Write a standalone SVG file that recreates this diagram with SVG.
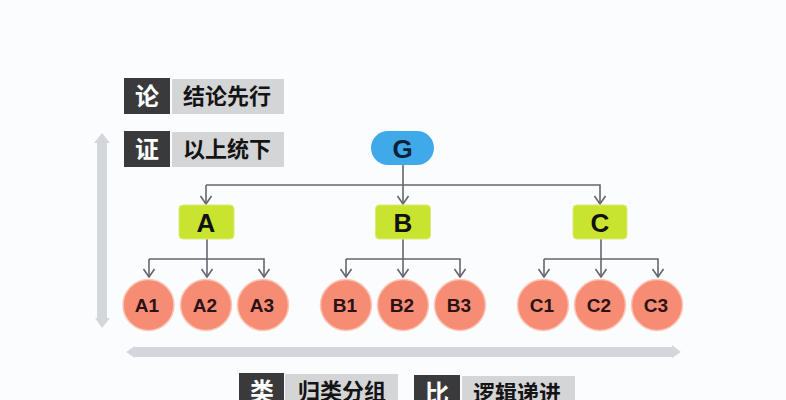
<svg xmlns="http://www.w3.org/2000/svg" width="786" height="400" viewBox="0 0 786 400">
<style>
.cjk{font-family:"Noto Sans CJK SC","Liberation Sans",sans-serif;font-weight:700;text-anchor:middle}
.dark{fill:#3a3a3c}
.grey{fill:#d4d5d7}
.tag{fill:#fff;font-size:24px}
.lab{fill:#141414;font-size:22px}
.lat{font-family:"Liberation Sans",Arial,sans-serif;font-weight:700;text-anchor:middle;fill:#111}
.big{font-size:26px}
.sm{font-size:19px;fill:#2a1216}
.sec{fill:#c9e42e;stroke:#d8ea78;stroke-width:1}
.leaf{fill:#f68c74;stroke:#fbc6b6;stroke-width:1.5}
.line{fill:none;stroke:#67656f;stroke-width:1.6}
.band{fill:#d3d7dc}
</style>
<defs>
<marker id="arr" viewBox="0 0 10 12" refX="9" refY="6" markerWidth="10" markerHeight="12" markerUnits="userSpaceOnUse" orient="auto">
<path d="M1 0.5L9 6L1 11.500" fill="none" stroke="#67656f" stroke-width="1.6"/>
</marker>
</defs>
<rect width="786" height="400" fill="#fbfcfe"/>
<g id="bands">
<path class="band" d="M102 133L110 143H107V318H110L102 328L95 318H97V143H94Z"/>
<path class="band" d="M126 352L135 346V347H672V345L681 352L672 358V357H135V358Z"/>
</g>
<g id="connectors">
<path class="line" d="M403 165V204" marker-end="url(#arr)"/>
<path class="line" d="M206 185H600V204" marker-end="url(#arr)"/>
<path class="line" d="M206 185V204" marker-end="url(#arr)"/>
<path class="line" d="M207 239V277" marker-end="url(#arr)"/>
<path class="line" d="M149 259V277" marker-end="url(#arr)"/>
<path class="line" d="M149 259H264V277" marker-end="url(#arr)"/>
<path class="line" d="M403 239V277" marker-end="url(#arr)"/>
<path class="line" d="M346 259V277" marker-end="url(#arr)"/>
<path class="line" d="M346 259H460V277" marker-end="url(#arr)"/>
<path class="line" d="M601 239V277" marker-end="url(#arr)"/>
<path class="line" d="M544 259V277" marker-end="url(#arr)"/>
<path class="line" d="M544 259H658V277" marker-end="url(#arr)"/>
</g>
<g id="tag-lun"><rect class="dark" x="124" y="78" width="46" height="36"/><rect class="grey" x="172" y="79" width="112" height="35"/><text class="cjk tag" x="147" y="105">论</text><text class="cjk lab" x="227" y="104">结论先行</text></g>
<g id="tag-zheng"><rect class="dark" x="124" y="131" width="46" height="36"/><rect class="grey" x="172" y="132" width="112" height="35"/><text class="cjk tag" x="147" y="158">证</text><text class="cjk lab" x="227" y="157">以上统下</text></g>
<g id="tag-lei"><rect class="dark" x="239" y="373" width="45" height="36"/><rect class="grey" x="285" y="374" width="113" height="35"/><text class="cjk tag" x="262" y="400">类</text><text class="cjk lab" x="342" y="399">归类分组</text></g>
<g id="tag-bi"><rect class="dark" x="414" y="375" width="46" height="36"/><rect class="grey" x="462" y="376" width="113" height="35"/><text class="cjk tag" x="437" y="402">比</text><text class="cjk lab" x="517" y="401">逻辑递进</text></g>
<g id="node-G"><rect x="371" y="131" width="63" height="34" rx="17" fill="#3fa9ea"/><text class="lat big" x="402.500" y="158" style="fill:#0d2238">G</text></g>
<g id="node-A"><rect class="sec" x="179" y="205" width="55" height="34" rx="4"/><text class="lat big" x="206" y="232">A</text></g>
<g id="node-B"><rect class="sec" x="375.500" y="205" width="55" height="34" rx="4"/><text class="lat big" x="403" y="232">B</text></g>
<g id="node-C"><rect class="sec" x="573" y="205" width="54" height="34" rx="4"/><text class="lat big" x="600" y="232">C</text></g>
<g id="node-A1"><circle class="leaf" cx="148.500" cy="305" r="25.500"/><text class="lat sm" x="147" y="312">A1</text></g>
<g id="node-A2"><circle class="leaf" cx="206" cy="305" r="25.500"/><text class="lat sm" x="205" y="312">A2</text></g>
<g id="node-A3"><circle class="leaf" cx="263" cy="305" r="25.500"/><text class="lat sm" x="262" y="312">A3</text></g>
<g id="node-B1"><circle class="leaf" cx="346" cy="305" r="25.500"/><text class="lat sm" x="345" y="312">B1</text></g>
<g id="node-B2"><circle class="leaf" cx="403" cy="305" r="25.500"/><text class="lat sm" x="402" y="312">B2</text></g>
<g id="node-B3"><circle class="leaf" cx="460" cy="305" r="25.500"/><text class="lat sm" x="459" y="312">B3</text></g>
<g id="node-C1"><circle class="leaf" cx="543" cy="305" r="25.500"/><text class="lat sm" x="542" y="312">C1</text></g>
<g id="node-C2"><circle class="leaf" cx="600" cy="305" r="25.500"/><text class="lat sm" x="599" y="312">C2</text></g>
<g id="node-C3"><circle class="leaf" cx="657" cy="305" r="25.500"/><text class="lat sm" x="656" y="312">C3</text></g>
</svg>
